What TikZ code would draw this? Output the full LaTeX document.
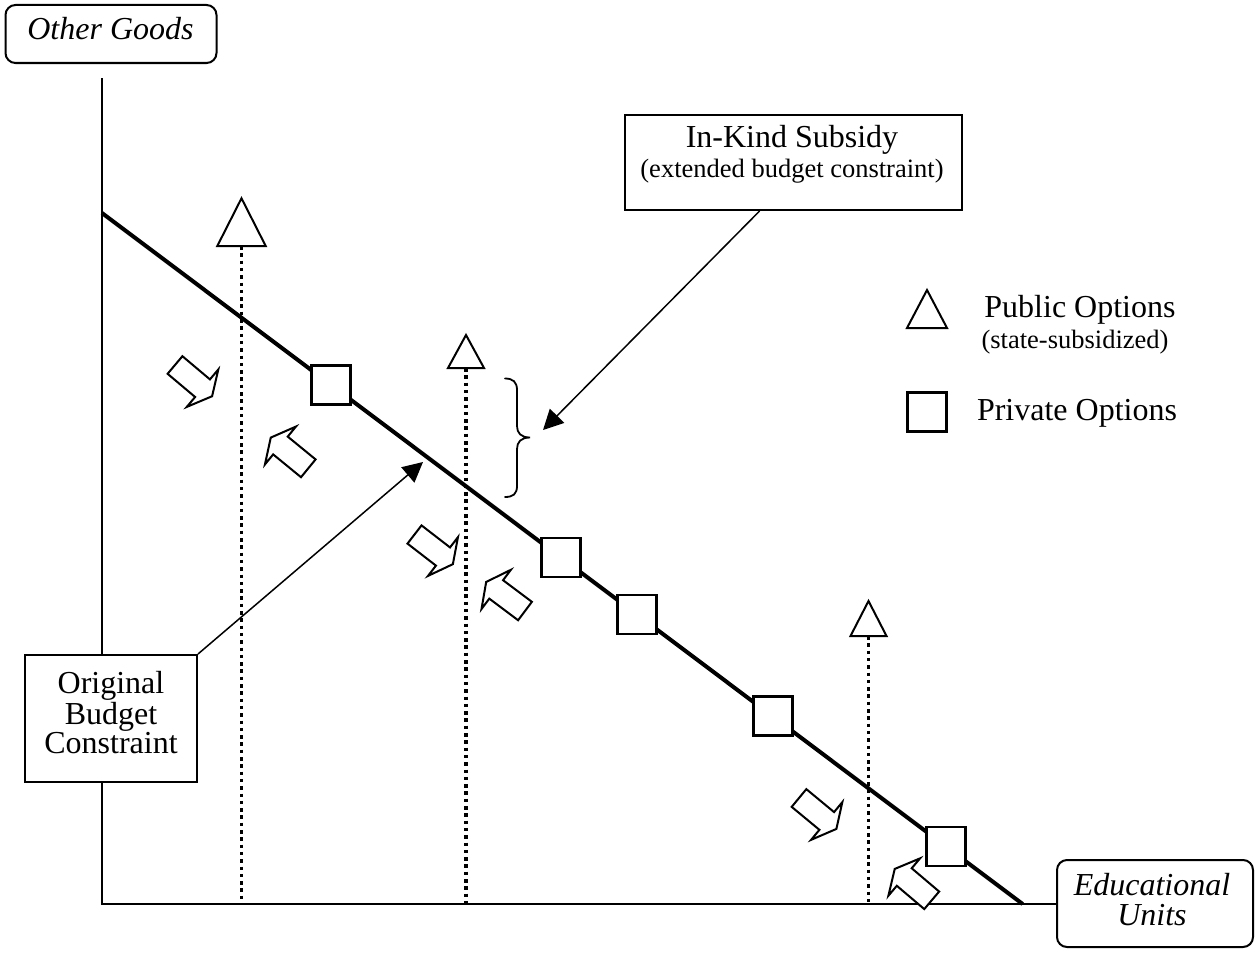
\documentclass[tikz,border=0pt]{standalone}
\usepackage{fontspec}
\setmainfont{Liberation Serif}
\usetikzlibrary{arrows.meta,calc}
\begin{document}
\begin{tikzpicture}[x=1pt,y=-1pt,
 axisline/.style={line width=2pt},
 budget/.style={line width=4pt},
 guide/.style={line width=3.5pt, dash pattern=on 3.5pt off 3.8pt},
 sq/.style={draw, line width=2.2pt, fill=white, minimum size=39pt, inner sep=0pt},
 tri/.style={draw, line width=2pt, fill=white, line join=miter},
 rbox/.style={draw, line width=2pt, rounded corners=10pt, fill=white, inner sep=0pt},
 sbox/.style={draw, line width=2pt, fill=white, inner sep=0pt},
 lbl/.style={font=\fontsize{32}{30}\selectfont, anchor=base, inner sep=0pt},
 slbl/.style={font=\fontsize{26.5}{28}\selectfont, anchor=base, inner sep=0pt},
 ilbl/.style={font=\fontsize{32}{30}\selectfont\itshape, anchor=base, inner sep=0pt},
 pointer/.style={line width=1.5pt, -{Triangle[length=20pt,width=20pt]}},
 bracestyle/.style={line width=1.8pt, line cap=round},
 blockarrow/.pic={\draw[line width=2pt, fill=white, line join=miter]
   (0,-11.5) -- (36,-11.5) -- (36,-24.5) -- (48.5,0) -- (36,24.5) -- (36,11.5) -- (0,11.5) -- cycle;}
]
\useasboundingbox (0,0) rectangle (1257,958);

% axis boxes
\node[rbox, minimum width=211pt, minimum height=58pt] (og) at (111,34) {};
\node[ilbl] (ogt) at (110.5,40) {Other Goods};
\node[rbox, minimum width=196pt, minimum height=87pt] (edu) at (1155,903.5) {};
\node[ilbl] (edut1) at (1152,895) {Educational};
\node[ilbl] (edut2) at (1152,925) {Units};

% axes
\coordinate (origin) at (102,904);
\coordinate (ytop) at (102,78);
\draw[axisline] (ytop) -- (origin) -- (origin -| edu.west);

% budget line
\coordinate (bl1) at (102,213);
\coordinate (bl2) at (1022.6,904);
\draw[budget] (bl1) -- (bl2);

% public options: dotted guides and triangles
\coordinate (t1) at (241.5,246);
\coordinate (t2) at (466,368);
\coordinate (t3) at (868.5,636);
\draw[guide] (t1) -- (t1 |- origin);
\draw[guide] (t2) -- (t2 |- origin);
\draw[guide] (t3) -- (t3 |- origin);
\draw[tri] (217.3,246) -- (265.7,246) -- (241.5,198.3) -- cycle;
\draw[tri] (448,368) -- (484,368) -- (466,335) -- cycle;
\draw[tri] (850.5,636) -- (886.5,636) -- (868.5,601) -- cycle;

% private options: squares
\node[sq] (s1) at (331,385) {};
\node[sq] (s2) at (561,557.5) {};
\node[sq] (s3) at (637,614.6) {};
\node[sq] (s4) at (773,716) {};
\node[sq] (s5) at (946,846.5) {};

% block arrows
\pic[rotate=-40.1] at (175,365) {blockarrow};
\pic[rotate=140.7] at (308.3,468.3) {blockarrow};
\pic[rotate=-37.7] at (414.5,534.5) {blockarrow};
\pic[rotate=143.2] at (525,611) {blockarrow};
\pic[rotate=-39.6] at (799,798) {blockarrow};
\pic[rotate=139.7] at (931.7,900.3) {blockarrow};

% brace
\draw[bracestyle] (505,378.5) .. controls (513,378.5) and (517,382) .. (517,390)
  -- (517,426) .. controls (517,433) and (521,437.5) .. (530,437.5)
  .. controls (521,437.5) and (517,442) .. (517,449)
  -- (517,486) .. controls (517,494) and (513,497) .. (505,497);

% In-Kind Subsidy box
\node[sbox, minimum width=337pt, minimum height=95pt] (inkind) at (793.5,162.5) {};
\node[lbl] (ink1) at (792,147) {In-Kind Subsidy};
\node[slbl] (ink2) at (792,177) {(extended budget constraint)};
\coordinate (bracetip) at (543,430);
\draw[pointer] ($(inkind.south west)!0.4!(inkind.south east)$) -- (bracetip);

% Original Budget Constraint box
\node[sbox, minimum width=172pt, minimum height=127pt] (orig) at (111,718.5) {};
\node[lbl] (or1) at (111,693) {Original};
\node[lbl] (or2) at (111,724) {Budget};
\node[lbl] (or3) at (111,753) {Constraint};
\coordinate (linept) at (423,462);
\draw[pointer] (orig.north east) -- (linept);

% legend
\draw[tri] (907,328) -- (947,328) -- (927,290) -- cycle;
\node[lbl] (pub) at (1080,317) {Public Options};
\node[slbl] (pubs) at (1075,348) {(state-subsidized)};
\node[sq] (lsq) at (927,412) {};
\node[lbl] (priv) at (1077,420) {Private Options};
\end{tikzpicture}
\end{document}
